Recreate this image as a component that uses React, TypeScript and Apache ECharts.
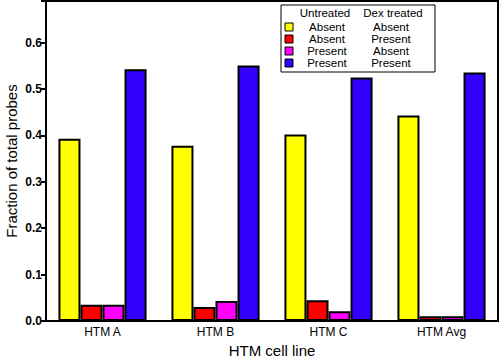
import React, { useEffect, useRef } from "react";
import * as echarts from "echarts";

const categories = ["HTM A", "HTM B", "HTM C", "HTM Avg"];
const untreatedLabels = ["Absent", "Absent", "Present", "Present"];
const dexLabels = ["Absent", "Present", "Absent", "Present"];
const colors = ["#ffff00", "#ff0000", "#ff00ff", "#3300ff"];
const absAbs = [0.393, 0.378, 0.402, 0.443];
const absPres = [0.035, 0.03, 0.045, 0.01];
const presAbs = [0.035, 0.043, 0.021, 0.01];
const presPres = [0.543, 0.551, 0.525, 0.536];
const seriesValues = [absAbs, absPres, presAbs, presPres];
const yTicks = ["0.0", "0.1", "0.2", "0.3", "0.4", "0.5", "0.6"];

const FONT = "'Liberation Sans', Arial, sans-serif";

export default function App() {
  const ref = useRef<HTMLDivElement>(null);
  useEffect(() => {
    if (!ref.current) return;
    const chart = echarts.init(ref.current, undefined, { renderer: "svg" });
    const legendX = 281;
    const legendY = 5;
    const rowY = [27, 39, 51, 63];
    const txt = (x: number, y: number, text: string) => ({
      type: "text",
      x,
      y,
      style: {
        text,
        font: `11.5px ${FONT}`,
        lineHeight: 11,
        fill: "#000",
        textAlign: "center",
        textVerticalAlign: "middle",
      },
      z: 101,
    });
    const graphics: any[] = [
      {
        type: "rect",
        shape: { x: legendX, y: legendY, width: 154, height: 67 },
        style: { fill: "#fff", stroke: "#000", lineWidth: 1 },
        z: 100,
      },
      txt(325, 13, "Untreated"),
      txt(393, 13, "Dex treated"),
    ];
    for (let i = 0; i < 4; i++) {
      graphics.push({
        type: "rect",
        shape: { x: 285, y: rowY[i] - 4, width: 8, height: 8 },
        style: { fill: colors[i], stroke: "#000", lineWidth: 1 },
        z: 101,
      });
      graphics.push(txt(327, rowY[i], untreatedLabels[i]));
      graphics.push(txt(391, rowY[i], dexLabels[i]));
    }
    chart.setOption({
      animation: false,
      backgroundColor: "#fff",
      grid: {
        left: 46,
        top: 1,
        right: 2,
        bottom: 41,
        containLabel: false,
        outerBoundsMode: "none",
        show: true,
        borderColor: "#000",
        borderWidth: 2,
      },
      xAxis: {
        type: "category",
        data: categories,
        name: "HTM cell line",
        nameLocation: "middle",
        nameGap: 22,
        nameMoveOverlap: false,
        nameTextStyle: { fontFamily: FONT, fontSize: 15, color: "#000" },
        axisLine: { lineStyle: { color: "#000", width: 2 } },
        axisTick: { show: false },
        axisLabel: { fontFamily: FONT, fontSize: 12, color: "#000", margin: 5 },
      },
      yAxis: {
        type: "value",
        min: 0,
        max: 0.69,
        interval: 0.1,
        name: "Fraction of total probes",
        nameLocation: "middle",
        nameGap: 27,
        nameMoveOverlap: false,
        nameTextStyle: { fontFamily: FONT, fontSize: 15, color: "#000" },
        axisLine: { show: true, lineStyle: { color: "#000", width: 2 } },
        axisTick: { show: true, length: 5, lineStyle: { color: "#000", width: 2 } },
        splitLine: { show: false },
        axisLabel: {
          fontFamily: FONT,
          fontSize: 12,
          fontWeight: "bold",
          color: "#000",
          margin: 4,
          formatter: (v: number) => {
            const idx = Math.round(v * 10);
            return Math.abs(v * 10 - idx) < 1e-6 && idx < yTicks.length ? yTicks[idx] : "";
          },
        },
      },
      series: seriesValues.map((vals, i) => ({
        type: "bar",
        data: vals,
        barGap: "0%",
        barCategoryGap: "22%",
        itemStyle: { color: colors[i], borderColor: "#000", borderWidth: 2 },
      })),
      graphic: graphics,
    });
    return () => chart.dispose();
  }, []);
  return <div ref={ref} style={{ position: "fixed", left: 0, top: 0, width: 500, height: 362 }} />;
}
